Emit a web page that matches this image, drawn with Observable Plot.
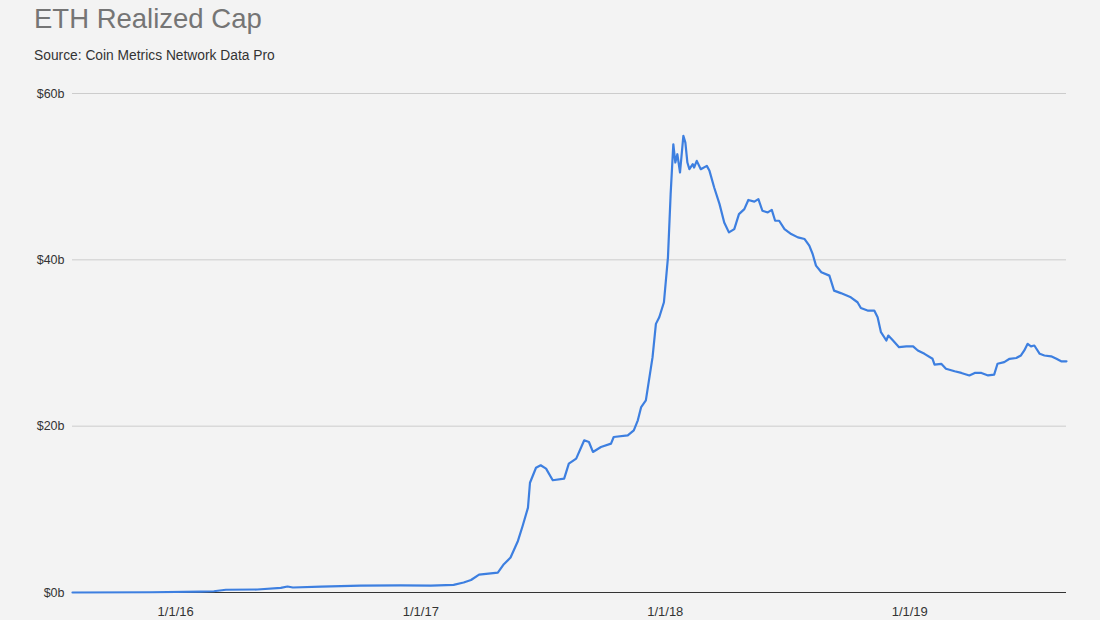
<!DOCTYPE html>
<html>
<head>
<meta charset="utf-8">
<script src="https://cdn.jsdelivr.net/npm/d3@7"></script>
<script src="https://cdn.jsdelivr.net/npm/@observablehq/plot@0.6"></script>
<style>
  html, body { margin: 0; padding: 0; background: #f3f3f3; width: 1100px; height: 620px; overflow: hidden; }
  body { font-family: "Liberation Sans", Arial, sans-serif; }
  #header { position: relative; height: 80px; }
  #title { position: absolute; left: 34px; top: 5px; font-size: 27.5px; line-height: 27.5px; color: #757575; white-space: nowrap; }
  #subtitle { position: absolute; left: 34px; top: 49px; font-size: 13.8px; line-height: 14px; color: #333; white-space: nowrap; }
  #chart svg { display: block; }
</style>
</head>
<body>
<div id="header">
  <div id="title">ETH Realized Cap</div>
  <div id="subtitle">Source: Coin Metrics Network Data Pro</div>
</div>
<div id="chart"></div>
<script>
// Dates of observations
const dates = [
  "2015-07-31","2015-11-25","2016-02-07","2016-02-27","2016-03-16","2016-05-02","2016-06-06","2016-06-16","2016-06-24","2016-08-05",
  "2016-10-03","2016-12-02","2017-01-16","2017-02-19","2017-03-06","2017-03-17","2017-03-29","2017-04-26","2017-05-05","2017-05-15",
  "2017-05-26","2017-06-02","2017-06-10","2017-06-13","2017-06-22","2017-06-29","2017-07-07","2017-07-17","2017-08-03","2017-08-10",
  "2017-08-21","2017-09-02","2017-09-09","2017-09-15","2017-09-27","2017-10-12","2017-10-16","2017-11-06","2017-11-15","2017-11-21",
  "2017-11-26","2017-12-03","2017-12-13","2017-12-18","2017-12-23","2017-12-30","2018-01-05","2018-01-09","2018-01-13","2018-01-16",
  "2018-01-19","2018-01-23","2018-01-28","2018-01-31","2018-02-03","2018-02-06","2018-02-11","2018-02-13","2018-02-17","2018-02-23",
  "2018-03-04","2018-03-08","2018-03-15","2018-03-23","2018-03-30","2018-04-06","2018-04-14","2018-04-21","2018-04-29","2018-05-05",
  "2018-05-14","2018-05-20","2018-05-26","2018-06-03","2018-06-09","2018-06-14","2018-06-20","2018-06-28","2018-07-08","2018-07-18",
  "2018-07-28","2018-08-04","2018-08-09","2018-08-14","2018-08-22","2018-09-03","2018-09-10","2018-09-20","2018-10-05","2018-10-15",
  "2018-10-20","2018-10-30","2018-11-09","2018-11-14","2018-11-19","2018-11-27","2018-11-30","2018-12-07","2018-12-16","2018-12-27",
  "2019-01-06","2019-01-13","2019-01-23","2019-02-04","2019-02-07","2019-02-17","2019-02-24","2019-03-09","2019-03-19","2019-03-31",
  "2019-04-08","2019-04-18","2019-04-28","2019-05-07","2019-05-12","2019-05-22","2019-05-30","2019-06-09","2019-06-16","2019-06-21",
  "2019-06-26","2019-07-01","2019-07-06","2019-07-14","2019-07-21","2019-07-31","2019-08-08","2019-08-15","2019-08-23"
];
// Realized cap, billions of USD
const realizedCap = [
  0.0,0.03,0.1,0.15,0.33,0.36,0.55,0.72,0.6,0.7,
  0.82,0.85,0.83,0.92,1.2,1.5,2.16,2.4,3.4,4.2,
  6.2,8.0,10.2,13.2,15.0,15.3,14.9,13.5,13.7,15.5,
  16.1,18.3,18.1,16.9,17.5,17.9,18.7,18.9,19.5,20.7,
  22.3,23.1,28.3,32.3,33.1,34.9,40.3,47.9,53.9,51.7,
  52.7,50.5,54.9,54.1,51.7,50.9,51.5,51.1,51.9,50.9,
  51.3,50.7,48.7,46.7,44.5,43.3,43.7,45.5,46.1,47.2,
  47.0,47.3,45.9,45.7,46.0,44.7,44.7,43.7,43.1,42.7,
  42.5,41.7,40.7,39.3,38.5,38.1,36.3,36.0,35.5,34.9,
  34.2,33.9,33.9,33.1,31.3,30.3,30.9,30.3,29.5,29.6,
  29.6,29.1,28.7,28.1,27.4,27.5,26.9,26.6,26.4,26.1,
  26.4,26.4,26.1,26.2,27.5,27.7,28.1,28.2,28.5,29.1,
  29.9,29.6,29.7,28.7,28.5,28.4,28.1,27.8,27.8
];
const yTicks = [0, 20, 40, 60];
const xTickDates = ["2016-01-01", "2017-01-01", "2018-01-01", "2019-01-01"];
const xTickLabels = ["1/1/16", "1/1/17", "1/1/18", "1/1/19"];

const parse = d3.utcParse("%Y-%m-%d");
const data = dates.map((d, i) => ({date: parse(d), value: realizedCap[i]}));
const xTicks = xTickDates.map(parse);
const labelFor = new Map(xTicks.map((d, i) => [+d, xTickLabels[i]]));

const chart = Plot.plot({
  width: 1100,
  height: 540,
  marginTop: 13,
  marginBottom: 28,
  marginLeft: 72,
  marginRight: 34,
  style: {background: "#f3f3f3", fontFamily: "'Liberation Sans', Arial, sans-serif", fontSize: "12.5px", color: "#333"},
  x: {type: "utc", domain: d3.extent(data, d => d.date)},
  y: {domain: [0, 60]},
  marks: [
    Plot.gridY(yTicks.filter(t => t > 0), {stroke: "#cccccc", strokeOpacity: 1, strokeWidth: 1}),
    Plot.axisY(yTicks, {tickSize: 0, tickPadding: 8, label: null, tickFormat: d => `$${d}b`, fill: "#333", fontSize: 12.5}),
    Plot.axisX(xTicks, {tickSize: 0, tickPadding: 14, label: null, tickFormat: d => labelFor.get(+d), fill: "#333", fontSize: 13}),
    Plot.ruleY([0], {stroke: "#333", strokeWidth: 1.2}),
    Plot.line(data, {x: "date", y: "value", stroke: "#3d7fe0", strokeWidth: 2.2, curve: "linear"})
  ]
});
document.getElementById("chart").appendChild(chart);
</script>
</body>
</html>
